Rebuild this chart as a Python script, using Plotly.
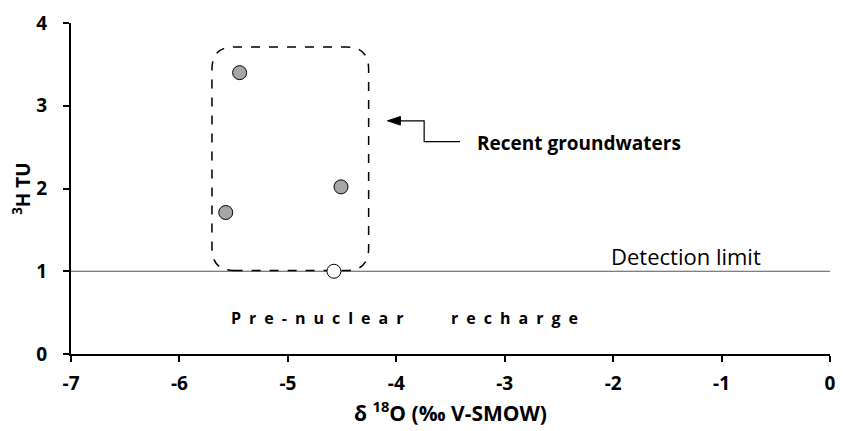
import plotly.graph_objects as go

# Data
recent_x = [-5.445, -5.573, -4.51]
recent_y = [3.40, 1.71, 2.02]
limit_x = [-4.575]
limit_y = [1.0]
x_ticks = [-7, -6, -5, -4, -3, -2, -1, 0]
y_ticks = [0, 1, 2, 3, 4]
detection_limit = 1.0
box_x = [-5.70, -4.255]
box_y = [1.01, 3.71]

FONT = "Open Sans"

fig = go.Figure()
fig.add_trace(go.Scatter(x=recent_x, y=recent_y, mode="markers",
                         marker=dict(size=14, color="#a6a6a6", line=dict(color="black", width=1)),
                         showlegend=False, hoverinfo="skip"))
fig.add_trace(go.Scatter(x=limit_x, y=limit_y, mode="markers",
                         marker=dict(size=14, color="white", line=dict(color="black", width=1)),
                         showlegend=False, hoverinfo="skip"))

# detection limit line
fig.add_shape(type="line", x0=-7, x1=0, y0=detection_limit, y1=detection_limit,
              xref="x", yref="y", line=dict(color="#555555", width=1), layer="below")

# rounded dashed box
x0, x1 = box_x
y0, y1 = box_y
rx, ry = 0.2, 0.27
path = (f"M {x0+rx},{y0} L {x1-rx},{y0} Q {x1},{y0} {x1},{y0+ry} "
        f"L {x1},{y1-ry} Q {x1},{y1} {x1-rx},{y1} L {x0+rx},{y1} "
        f"Q {x0},{y1} {x0},{y1-ry} L {x0},{y0+ry} Q {x0},{y0} {x0+rx},{y0} Z")
fig.add_shape(type="path", path=path, xref="x", yref="y",
              line=dict(color="black", width=1.5, dash="dash"), layer="below")

# arrow connector
fig.add_shape(type="path", path="M -3.962,2.818 L -3.743,2.818 L -3.743,2.567 L -3.413,2.567",
              xref="x", yref="y", line=dict(color="black", width=1.2))
fig.add_shape(type="path", path="M -4.081,2.818 L -3.962,2.87 L -3.962,2.766 Z",
              xref="x", yref="y", line=dict(color="black", width=1), fillcolor="black")

fig.add_annotation(x=-3.276, y=2.55, xref="x", yref="y", text="<b>Recent groundwaters</b>",
                   showarrow=False, xanchor="left", yanchor="middle",
                   font=dict(family=FONT, size=19, color="black"))
fig.add_annotation(x=-2.041, y=1.19, xref="x", yref="y", text="Detection limit",
                   showarrow=False, xanchor="left", yanchor="middle",
                   font=dict(family=FONT, size=22, color="black"))
sp = "\u2002"
fig.add_annotation(x=-5.545, y=0.44, xref="x", yref="y",
                   text="<b>" + sp.join(list("Pre-nuclear")) + "</b>",
                   showarrow=False, xanchor="left", yanchor="middle",
                   font=dict(family=FONT, size=16, color="black"))
fig.add_annotation(x=-3.514, y=0.44, xref="x", yref="y",
                   text="<b>" + sp.join(list("recharge")) + "</b>",
                   showarrow=False, xanchor="left", yanchor="middle",
                   font=dict(family=FONT, size=16, color="black"))

fig.update_layout(
    width=846, height=431,
    margin=dict(l=71, r=10, t=19, b=77),
    plot_bgcolor="white", paper_bgcolor="white",
    font=dict(family=FONT, color="black"),
    xaxis=dict(range=[-7, 0], tickvals=x_ticks, ticktext=[str(v) for v in x_ticks],
               ticks="outside", ticklen=6, tickwidth=2, ticklabelstandoff=5,
               tickcolor="black", showline=True, linecolor="black", linewidth=2,
               showgrid=False, zeroline=False,
               tickfont=dict(family=FONT, size=19, color="black", weight="bold"),
               title=dict(text="<b>δ <sup>18</sup>O (‰ V-SMOW)</b>",
                          font=dict(family=FONT, size=21, color="black"), standoff=5)),
    yaxis=dict(range=[0, 4], tickvals=y_ticks, ticktext=[str(v) for v in y_ticks],
               ticks="outside", ticklen=6, tickwidth=2, ticklabelstandoff=12,
               tickcolor="black", showline=True, linecolor="black", linewidth=2,
               showgrid=False, zeroline=False,
               tickfont=dict(family=FONT, size=19, color="black", weight="bold"),
               title=dict(text="<b><sup>3</sup>H TU</b>",
                          font=dict(family=FONT, size=19, color="black"), standoff=0)),
)

fig.write_html("out.html")
